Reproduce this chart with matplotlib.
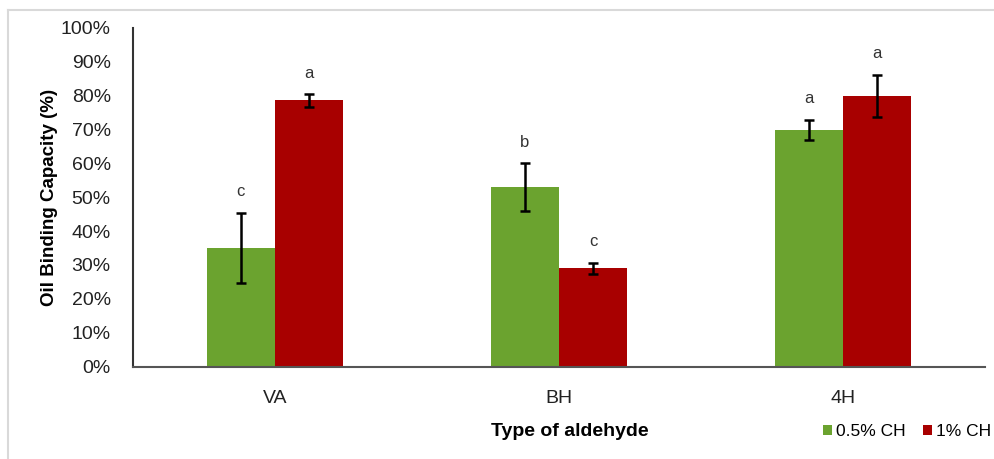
import matplotlib
matplotlib.use("Agg")
import matplotlib.pyplot as plt
import numpy as np
from matplotlib.lines import Line2D

plt.rcParams['font.family'] = ['Liberation Sans', 'DejaVu Sans']

categories = ["VA", "BH", "4H"]
series_names = ["0.5% CH", "1% CH"]
ch05 = [35.0, 53.0, 69.9]
ch05_err = [10.4, 7.0, 3.0]
ch1 = [78.6, 29.0, 80.0]
ch1_err = [1.8, 1.7, 6.2]
letters05 = ["c", "b", "a"]
letters1 = ["a", "c", "a"]
colors = ["#6BA32F", "#A80000"]

fig = plt.figure(figsize=(9.95, 4.59), dpi=100)
# partial light border (top and left, as in the cropped original)
fig.lines.append(Line2D([8/995, 1.0], [1 - 10/459, 1 - 10/459], transform=fig.transFigure,
                        color="#D9D9D9", linewidth=1.5))
fig.lines.append(Line2D([8/995, 8/995], [0, 1 - 10/459], transform=fig.transFigure,
                        color="#D9D9D9", linewidth=1.5))

ax = fig.add_axes([133/995, 1 - 366.5/459, (985-133)/995, (366.5-28)/459])

x = np.arange(len(categories))
w = 0.24
ekw = dict(ecolor="black", elinewidth=1.8, capsize=3.5, capthick=1.8)
b1 = ax.bar(x - w/2, ch05, w, color=colors[0], label=series_names[0], yerr=ch05_err, error_kw=ekw)
b2 = ax.bar(x + w/2, ch1, w, color=colors[1], label=series_names[1], yerr=ch1_err, error_kw=ekw)

for i in range(len(categories)):
    ax.text(x[i] - w/2, ch05[i] + ch05_err[i] + 4, letters05[i], ha="center", va="bottom",
            fontsize=12, color="#333333")
    ax.text(x[i] + w/2, ch1[i] + ch1_err[i] + 4, letters1[i], ha="center", va="bottom",
            fontsize=12, color="#333333")

ax.set_xlim(-0.5, 2.5)
ax.set_ylim(0, 100)
ax.set_yticks(np.arange(0, 101, 10))
ax.set_yticklabels([f"{v}%" for v in range(0, 101, 10)], fontsize=14)
ax.set_xticks(x)
ax.set_xticklabels(categories, fontsize=14)
ax.tick_params(axis="both", length=0, colors="#222222")
ax.tick_params(axis="x", pad=17)
ax.tick_params(axis="y", pad=16)
for s in ["top", "right"]:
    ax.spines[s].set_visible(False)
ax.spines["left"].set_color("#333333")
ax.spines["bottom"].set_color("#555555")
ax.spines["left"].set_linewidth(1.5)
ax.spines["bottom"].set_linewidth(1.5)

ax.set_ylabel("Oil Binding Capacity (%)", fontsize=13.5, fontweight="bold", labelpad=2)
fig.text(570/995, 1 - 432/459, "Type of aldehyde", ha="center", va="center",
         fontsize=14, fontweight="bold")

fig.legend(handles=[b1, b2], labels=series_names, loc="center right",
           bbox_to_anchor=(991/995, 1 - 432/459), ncol=2, frameon=False, fontsize=12.5,
           handlelength=0.5, handleheight=0.5, handletextpad=0.25, columnspacing=1.0,
           borderpad=0.0, borderaxespad=0.0)

fig.savefig("out.png", dpi=100)
